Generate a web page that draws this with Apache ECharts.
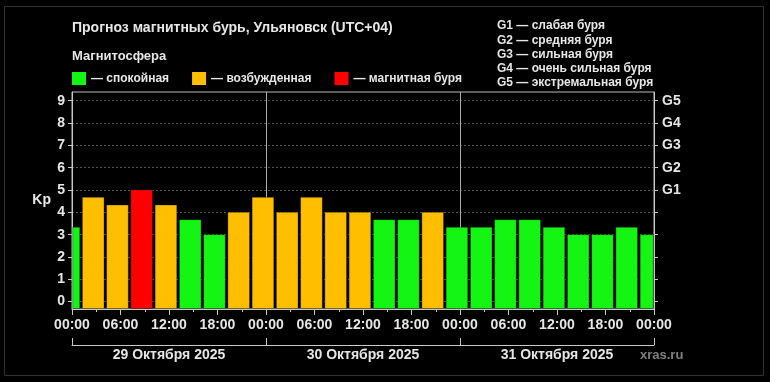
<!DOCTYPE html>
<html><head><meta charset="utf-8">
<script src="https://cdn.jsdelivr.net/npm/echarts@6/dist/echarts.min.js"></script>
<style>html,body{margin:0;padding:0;background:#000}#c{width:770px;height:382px}</style>
</head><body><div id="c"></div>
<script>
// Kp forecast, 3-hour intervals. Start hour is counted from 29 Oct 2025 00:00 (UTC+04).
const intervalStartHours = [-2, 1, 4, 7, 10, 13, 16, 19, 22, 25, 28, 31, 34, 37, 40, 43, 46, 49, 52, 55, 58, 61, 64, 67, 70];
const kpValues = [3.33, 4.67, 4.33, 5, 4.33, 3.67, 3, 4, 4.67, 4, 4.67, 4, 4, 3.67, 3.67, 4, 3.33, 3.33, 3.67, 3.67, 3.33, 3, 3, 3.33, 3];
const intervalLength = 3;
const timeTickLabels = ['00:00', '06:00', '12:00', '18:00'];
const dayLabels = ['29 Октября 2025', '30 Октября 2025', '31 Октября 2025'];
const kpTicks = [0, 1, 2, 3, 4, 5, 6, 7, 8, 9];
const stormTicks = [5, 6, 7, 8, 9];
const stormLabels = ['G1', 'G2', 'G3', 'G4', 'G5'];
const stormLegend = ['G1 — слабая буря', 'G2 — средняя буря', 'G3 — сильная буря', 'G4 — очень сильная буря', 'G5 — экстремальная буря'];
const stateNames = ['— спокойная', '— возбужденная', '— магнитная буря'];
const stateColors = ['#14f514', '#ffbf00', '#ff0000'];
const stateThresholds = [4, 5]; // Kp < 4 calm, 4..5 disturbed, >=5 storm
const dayBoundaries = [24, 48];

const X_MIN = 0, X_MAX = 72, Y_MIN = -0.33, Y_MAX = 9.39;
const TEXT = '#e6e6e6', AXIS = '#c8c8c8';
const FONT = '"Liberation Sans", Arial, sans-serif';

function stateOf(kp) { return kp >= stateThresholds[1] ? 2 : (kp >= stateThresholds[0] ? 1 : 0); }

const stateData = [[], [], []];
intervalStartHours.forEach((s, i) => {
  stateData[stateOf(kpValues[i])].push([s, s + intervalLength, kpValues[i]]);
});

function renderBar(params, api) {
  const s = api.value(0), e = api.value(1), kp = api.value(2);
  const lo = Math.max(s, X_MIN), hi = Math.min(e, X_MAX);
  const pBase = api.coord([lo, Y_MIN]);
  const pTop = api.coord([hi, kp]);
  const x0 = pBase[0] + (s >= X_MIN ? 2.3 : 0.8);
  const x1 = pTop[0] - (e <= X_MAX ? 0.3 : 0.8);
  return {
    type: 'rect',
    shape: { x: x0, y: pTop[1], width: x1 - x0, height: pBase[1] - pTop[1] - 0.5 },
    style: { fill: api.visual('color'), stroke: 'rgba(0,0,0,0.3)', lineWidth: 1 }
  };
}

const series = stateNames.map((name, k) => ({
  type: 'custom',
  name: name,
  renderItem: renderBar,
  encode: { x: [0, 1], y: 2 },
  itemStyle: { color: stateColors[k] },
  data: stateData[k],
  z: 3
}));
series[0].markLine = {
  silent: true, symbol: 'none', z: 1,
  label: { show: false },
  lineStyle: { color: '#aaaaaa', type: 'solid', width: 1 },
  data: dayBoundaries.map(h => ({ xAxis: h }))
};

const chart = echarts.init(document.getElementById('c'), null, { renderer: 'canvas' });
chart.setOption({
  backgroundColor: '#000',
  animation: false,
  textStyle: { fontFamily: FONT },
  title: [
    { text: 'Прогноз магнитных бурь, Ульяновск (UTC+04)', left: 67, top: 16,
      textStyle: { color: TEXT, fontSize: 14, fontWeight: 'bold', fontFamily: FONT } },
    { text: 'Магнитосфера', left: 67, top: 45,
      textStyle: { color: TEXT, fontSize: 13, fontWeight: 'bold', fontFamily: FONT } }
  ],
  legend: {
    left: 72, top: 72, itemWidth: 14, itemHeight: 13, itemGap: 23, icon: 'rect', padding: 0,
    data: stateNames,
    textStyle: { color: TEXT, fontSize: 12, fontWeight: 'bold', fontFamily: FONT }
  },
  grid: { left: 72, top: 92, width: 582, height: 217, show: true, borderColor: '#bbbbbb', borderWidth: 1 },
  xAxis: [
    {
      type: 'value', min: X_MIN, max: X_MAX, interval: 6, position: 'bottom',
      axisLine: { show: true, onZero: false, lineStyle: { color: AXIS } },
      axisTick: { show: true, length: 6, lineStyle: { color: AXIS } },
      minorTick: { show: true, splitNumber: 2, length: 3, lineStyle: { color: AXIS } },
      splitLine: { show: false }, minorSplitLine: { show: false },
      axisLabel: {
        color: TEXT, fontSize: 14, fontWeight: 'bold', margin: 9, fontFamily: FONT,
        showMinLabel: true, showMaxLabel: true,
        formatter: v => timeTickLabels[Math.round(v / 6) % 4]
      }
    },
    {
      type: 'category', data: dayLabels, position: 'bottom', offset: 36,
      axisLine: { show: true, onZero: false, lineStyle: { color: AXIS } },
      axisTick: { show: true, inside: true, length: 7, lineStyle: { color: AXIS } },
      axisLabel: { color: TEXT, fontSize: 14, fontWeight: 'bold', margin: 3, fontFamily: FONT },
      splitLine: { show: false }
    }
  ],
  yAxis: [
    {
      type: 'value', min: Y_MIN, max: Y_MAX, position: 'left',
      name: 'Kp', nameLocation: 'middle', nameRotate: 0, nameGap: 21,
      nameTextStyle: { color: TEXT, fontSize: 14, fontWeight: 'bold', fontFamily: FONT, padding: [6, 0, 0, 0] },
      axisLine: { show: true, onZero: false, lineStyle: { color: AXIS } },
      axisTick: { show: true, length: 4, customValues: kpTicks, lineStyle: { color: AXIS } },
      axisLabel: { customValues: kpTicks, color: TEXT, fontSize: 14, fontWeight: 'bold', margin: 7, fontFamily: FONT },
      splitLine: { show: true, lineStyle: { color: '#555555', type: [2, 2], width: 1 } }
    },
    {
      type: 'value', min: Y_MIN, max: Y_MAX, position: 'right',
      axisLine: { show: true, onZero: false, lineStyle: { color: AXIS } },
      axisTick: { show: true, length: 4, customValues: kpTicks, lineStyle: { color: AXIS } },
      axisLabel: { customValues: stormTicks, color: TEXT, fontSize: 14, fontWeight: 'bold', margin: 8, fontFamily: FONT,
        formatter: v => stormLabels[Math.round(v) - 5] },
      splitLine: { show: false }
    }
  ],
  graphic: [
    { type: 'rect', z: -1, shape: { x: 4.5, y: 6.5, width: 759, height: 369 }, style: { fill: 'none', stroke: '#333333', lineWidth: 1 } },
    { type: 'text', left: 497, top: 19, style: { text: stormLegend.join('\n'), fill: TEXT, font: 'bold 12px ' + FONT, lineHeight: 14.2 } },
    { type: 'text', left: 640, top: 349, style: { text: 'xras.ru', fill: '#808080', font: 'bold 13px ' + FONT } }
  ],
  series: series
});
</script></body></html>
